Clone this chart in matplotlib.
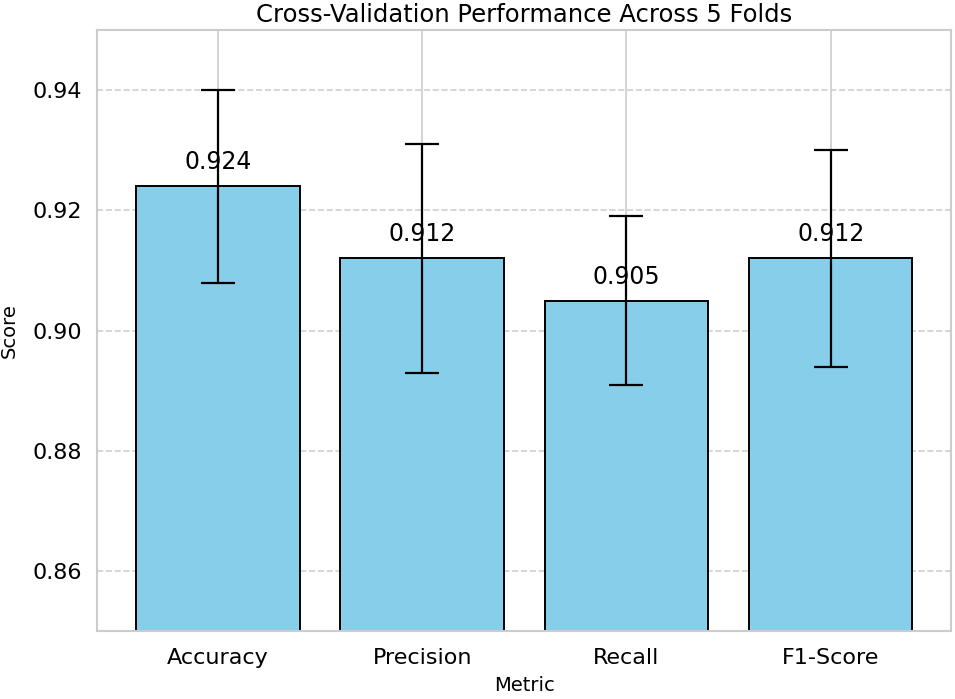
import numpy as np
import matplotlib.pyplot as plt
import seaborn as sns

# Cross-validation summary (mean and std over 5 folds)
metrics = ['Accuracy', 'Precision', 'Recall', 'F1-Score']
mean_scores = [0.924, 0.912, 0.905, 0.912]
std_scores = [0.016, 0.019, 0.014, 0.018]

sns.set_style('whitegrid')
plt.rcParams['font.family'] = ['DejaVu Sans']
plt.rcParams['text.color'] = 'black'
plt.rcParams['axes.labelcolor'] = 'black'
plt.rcParams['xtick.color'] = 'black'
plt.rcParams['ytick.color'] = 'black'

fig = plt.figure(figsize=(9.55, 6.99), dpi=100)
ax = fig.add_axes([0.102, 0.097, 0.894, 0.860])

x = np.arange(len(metrics))
bars = ax.bar(x, mean_scores, yerr=std_scores, width=0.8, color='skyblue',
              edgecolor='black', linewidth=1.4, capsize=12,
              error_kw={'elinewidth': 1.6, 'capthick': 1.6, 'ecolor': 'black'})

# value labels above each bar
for xi, val in zip(x, mean_scores):
    ax.text(xi, val + 0.002, f'{val:.3f}', ha='center', va='bottom', fontsize=17)

ax.set_xticks(x)
ax.set_xticklabels(metrics, fontsize=16)
ax.set_ylim(0.85, 0.95)
ax.set_yticks([0.86, 0.88, 0.90, 0.92, 0.94])
ax.set_yticklabels(['0.86', '0.88', '0.90', '0.92', '0.94'], fontsize=16)
ax.yaxis.grid(True, linestyle='--', color='#d0d0d0', linewidth=1.2)
ax.xaxis.grid(True, linestyle='-', color='#cccccc', linewidth=1.2)
ax.set_axisbelow(True)
ax.tick_params(axis='x', length=0, pad=12)
ax.tick_params(axis='y', length=0, pad=11)

ax.set_xlabel('Metric', fontsize=14, labelpad=6)
ax.set_ylabel('Score', fontsize=14, labelpad=10)
ax.set_title('Cross-Validation Performance Across 5 Folds', fontsize=17.5, pad=6)

for s in ax.spines.values():
    s.set_color('#cccccc')
    s.set_linewidth(1.5)

fig.savefig('out.png', dpi=100)
